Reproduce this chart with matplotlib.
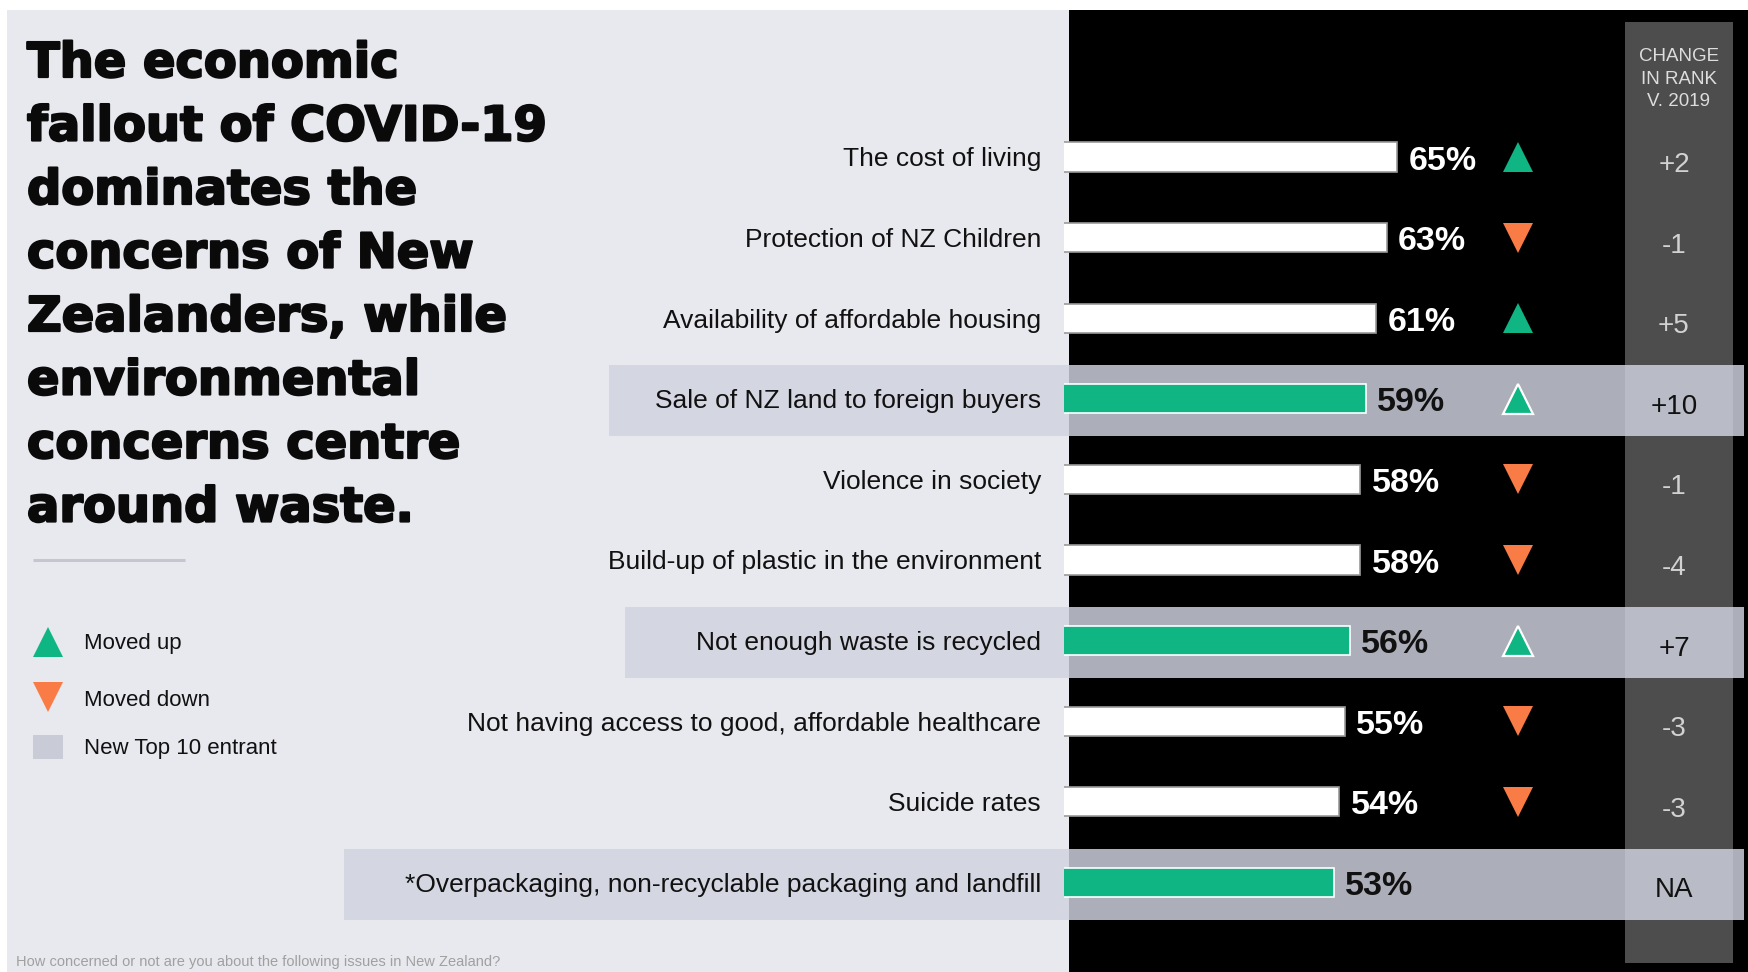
import matplotlib
matplotlib.use("Agg")
import matplotlib.pyplot as plt
import matplotlib.transforms as mtransforms
import matplotlib.patheffects as pe
from matplotlib.patches import Rectangle

# ---- data -----------------------------------------------------------------
title_lines = [
    "The economic",
    "fallout of COVID-19",
    "dominates the",
    "concerns of New",
    "Zealanders, while",
    "environmental",
    "concerns centre",
    "around waste.",
]

issues = [
    "The cost of living",
    "Protection of NZ Children",
    "Availability of affordable housing",
    "Sale of NZ land to foreign buyers",
    "Violence in society",
    "Build-up of plastic in the environment",
    "Not enough waste is recycled",
    "Not having access to good, affordable healthcare",
    "Suicide rates",
    "*Overpackaging, non-recyclable packaging and landfill",
]
concern_pct = [65, 63, 61, 59, 58, 58, 56, 55, 54, 53]
rank_change = ["+2", "-1", "+5", "+10", "-1", "-4", "+7", "-3", "-3", "NA"]
direction = ["up", "down", "up", "up", "down", "down", "up", "down", "down", None]
new_entrant = [False, False, False, True, False, False, True, False, False, True]

legend_labels = ["Moved up", "Moved down", "New Top 10 entrant"]
column_header = "CHANGE\nIN RANK\nV. 2019"
footnote = "How concerned or not are you about the following issues in New Zealand?"

# ---- style ----------------------------------------------------------------
W, H, DPI = 1749, 972, 100
LIGHT_BG = "#E8E9EE"
GREEN = "#10B584"
ORANGE = "#F97B45"
RANK_COL = "#4D4D4D"
BAND = (208 / 255, 212 / 255, 224 / 255)
SANS = ["Liberation Sans", "DejaVu Sans"]

# highlight band left edges (px) for the new entrants
band_left = {3: 609, 6: 625, 9: 344}

fig = plt.figure(figsize=(W / DPI, H / DPI), dpi=DPI, facecolor="white")

# background canvas in pixel units (origin top-left)
bg = fig.add_axes([0, 0, 1, 1], zorder=0)
bg.set_xlim(0, W)
bg.set_ylim(H, 0)
bg.axis("off")

bg.add_patch(Rectangle((7, 10), 1069 - 7, H - 10, color=LIGHT_BG, lw=0))
bg.add_patch(Rectangle((1069, 10), W - 1069, H - 10, color="black", lw=0))
bg.add_patch(Rectangle((1625, 22), 108, 941, color=RANK_COL, lw=0))

# bar axes: 0 % sits just left of the dark panel
ax = fig.add_axes([1064 / W, 0, (W - 1064) / W, 962 / H], zorder=1)
ax.set_facecolor("none")
ax.set_xlim(8 / 5.25, (W - 1056) / 5.25)
ax.set_ylim(815 / 80.6, -147 / 80.6)
ax.axis("off")

rows = list(range(len(issues)))
px_row = mtransforms.blended_transform_factory(bg.transData, ax.transData)

# bands behind the new-entrant rows
for i in rows:
    if new_entrant[i]:
        left = band_left[i]
        bg.add_patch(Rectangle((left, 157 + i * 80.6 + 2 - 35.5), 1744 - left, 71,
                               facecolor=BAND, alpha=0.83, lw=0, zorder=2))

bar_colors = [GREEN if n else "white" for n in new_entrant]
bar_edges = ["white" if n else "#9a9a9a" for n in new_entrant]
ax.barh(rows, concern_pct, height=0.36, color=bar_colors, edgecolor=bar_edges,
        linewidth=1.2, zorder=3)

for i in rows:
    hl = new_entrant[i]
    # value label
    ax.text(concern_pct[i] + 2.1, i + 0.05, f"{concern_pct[i]}%", ha="left", va="center",
            fontsize=24.5, fontweight="bold", family=SANS,
            color="#111111" if hl else "white", zorder=4)
    # issue label
    ax.text(1041, i + 0.03, issues[i], transform=px_row, ha="right", va="center",
            fontsize=19, family=SANS, color="#111111", clip_on=False)
    # direction marker
    if direction[i] == "up":
        ax.plot([1518], [i], transform=px_row, marker="^", ms=21.5, ls="none",
                color=GREEN, mec="white" if hl else GREEN, mew=1.6 if hl else 0,
                clip_on=False, zorder=5)
    elif direction[i] == "down":
        ax.plot([1518], [i], transform=px_row, marker="v", ms=21.5, ls="none",
                color=ORANGE, mew=0, clip_on=False, zorder=5)
    # rank change
    ax.text(1674, i + 0.1, rank_change[i], transform=px_row, ha="center", va="center",
            fontsize=20, family=SANS, color="#111111" if hl else "#D2D2D2",
            clip_on=False, zorder=5)

bg.text(1679, 79, column_header, ha="center", va="center", fontsize=13.5,
        family=SANS, color="#DDDDDD", linespacing=1.42)

# headline
for k, line in enumerate(title_lines):
    bg.text(27, 77 + k * 63.5, line, ha="left", va="baseline", fontsize=34.5,
            fontweight="bold", family=["DejaVu Sans"], color="#0A0A0A",
            path_effects=[pe.withStroke(linewidth=1.6, foreground="#0A0A0A")])

bg.plot([33, 185], [560, 560], color="#C4C7D0", lw=2.2, solid_capstyle="butt")

# legend
bg.plot([48], [642], marker="^", ms=21, color=GREEN, mew=0, ls="none")
bg.plot([48], [697], marker="v", ms=21, color=ORANGE, mew=0, ls="none")
bg.add_patch(Rectangle((33, 735), 30, 24, color="#C9CCD6", lw=0))
for y, lab in zip([643, 700, 748], legend_labels):
    bg.text(84, y, lab, ha="left", va="center", fontsize=16, family=SANS, color="#111111")

bg.text(16, 955, footnote, ha="left", va="top", fontsize=10.5, family=SANS, color="#A0A0A0")

fig.savefig("out.png", dpi=DPI, facecolor="white")
